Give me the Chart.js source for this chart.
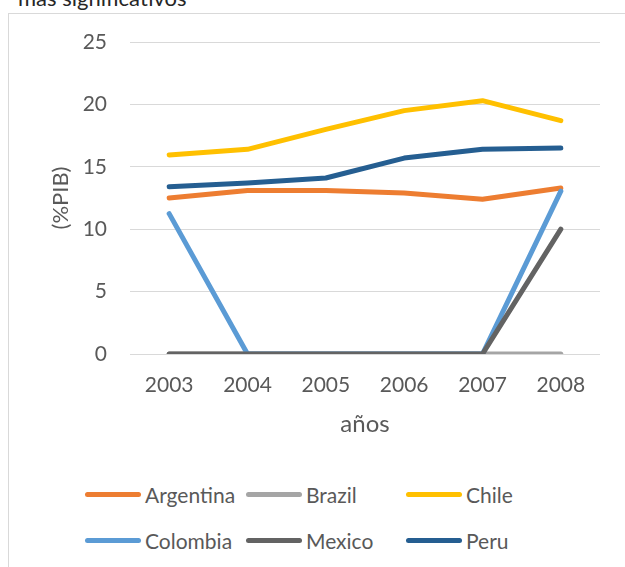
<!DOCTYPE html>
<html lang="es">
<head>
<meta charset="UTF-8">
<title>(%PIB) por años</title>
<script src="https://cdn.jsdelivr.net/npm/chart.js"></script>
<style>
  body { margin: 0; background: #fff; font-family: Lato, sans-serif; }
  #wrap { position: relative; width: 625px; height: 567px; overflow: hidden; }
  #title { position: absolute; left: 18px; top: -13px; font-size: 22px; line-height: 21px; color: #262626; white-space: nowrap; }
  #frame { position: absolute; left: 8px; top: 13px; width: 700px; height: 700px; border: 1px solid #d9d9d9; }
  #chartBox { position: absolute; left: 0; top: 0; width: 625px; height: 450px; }
  #legend { position: absolute; left: 85px; top: 482px; display: grid; grid-template-columns: 161px 160px 160px; row-gap: 22px; }
  .item { display: flex; align-items: center; height: 24px; font-size: 21px; color: #595959; white-space: nowrap; }
  .swatch { width: 56px; height: 5px; border-radius: 3px; margin-right: 4px; }
</style>
</head>
<body>
<div id="wrap">
  <div id="title">más significativos</div>
  <div id="frame"></div>
  <div id="chartBox"><canvas id="chart"></canvas></div>
  <div id="legend"></div>
</div>

<script>
const years = ["2003", "2004", "2005", "2006", "2007", "2008"];

const argentina = [12.5, 13.1, 13.1, 12.9, 12.4, 13.3];
const brazil    = [0, 0, 0, 0, 0, 0];
const chile     = [15.95, 16.4, 18.0, 19.5, 20.3, 18.7];
const colombia  = [11.25, 0, 0, 0, 0, 13.05];
const mexico    = [0, 0, 0, 0, 0, 10.0];
const peru      = [13.4, 13.7, 14.1, 15.7, 16.4, 16.5];

const seriesNames  = ["Argentina", "Brazil", "Chile", "Colombia", "Mexico", "Peru"];
const seriesValues = [argentina, brazil, chile, colombia, mexico, peru];
const seriesColors = ["#ED7D31", "#A5A5A5", "#FFC000", "#5B9BD5", "#636363", "#255E91"];

const yTicks = [0, 5, 10, 15, 20, 25];

const textColor = "#595959";
const fontFamily = "Lato, sans-serif";

// Excel draws later series on top, Chart.js the opposite: flip with "order"
const datasets = seriesNames.map((name, i) => ({
    label: name,
    data: seriesValues[i],
    borderColor: seriesColors[i],
    backgroundColor: seriesColors[i],
    borderWidth: 5,
    borderCapStyle: "round",
    borderJoinStyle: "round",
    pointRadius: 0,
    pointHoverRadius: 0,
    tension: 0,
    order: seriesNames.length - i
}));

new Chart(document.getElementById("chart"), {
    type: "line",
    data: { labels: years, datasets: datasets },
    options: {
        responsive: true,
        maintainAspectRatio: false,
        animation: false,
        layout: { padding: { left: 40, right: 25, top: 42, bottom: 9 } },
        plugins: { legend: { display: false }, tooltip: { enabled: false } },
        scales: {
            x: {
                offset: true,
                afterFit: (scale) => { scale.height = 87; },
                grid: { display: false },
                border: { display: false },
                ticks: { color: textColor, font: { family: fontFamily, size: 21 }, padding: 11, maxRotation: 0 },
                title: {
                    display: true, text: "años", color: textColor,
                    font: { family: fontFamily, size: 24 },
                    padding: { top: 16, bottom: 2 }
                }
            },
            y: {
                min: 0,
                max: 25,
                afterBuildTicks: (scale) => { scale.ticks = yTicks.map(v => ({ value: v })); },
                afterFit: (scale) => { scale.width = 90; },
                grid: { color: "#d9d9d9", lineWidth: 1, drawTicks: false },
                border: { display: false },
                ticks: { color: textColor, font: { family: fontFamily, size: 21 }, padding: 23 },
                title: {
                    display: true, text: "(%PIB)", color: textColor,
                    font: { family: fontFamily, size: 22 },
                    padding: { top: 8, bottom: 0 }
                }
            }
        }
    }
});

// legend laid out in fixed columns like the original
const legend = document.getElementById("legend");
seriesNames.forEach((name, i) => {
    const item = document.createElement("div");
    item.className = "item";
    const sw = document.createElement("span");
    sw.className = "swatch";
    sw.style.background = seriesColors[i];
    item.appendChild(sw);
    item.appendChild(document.createTextNode(name));
    legend.appendChild(item);
});
</script>
</body>
</html>
